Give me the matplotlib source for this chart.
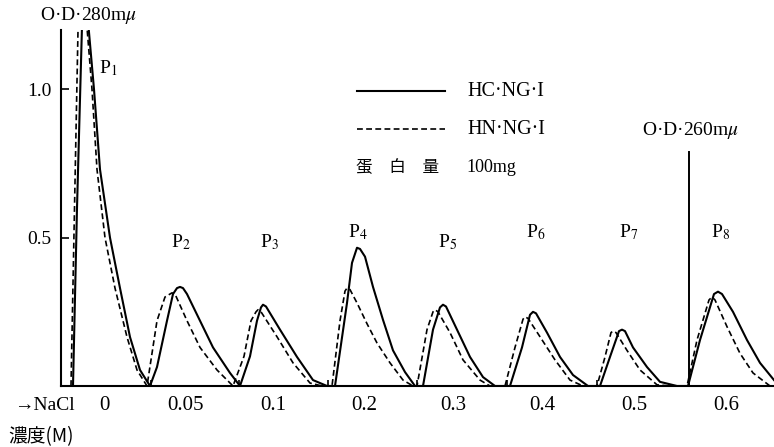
import matplotlib
matplotlib.use('Agg')
import matplotlib.pyplot as plt

plt.rcParams['font.family'] = ['Liberation Serif', 'Noto Sans CJK JP']
plt.rcParams['mathtext.fontset'] = 'stix'

# x = fraction position (elution order), y = optical density
hc_x = [73, 77, 82.3,
        87.5, 94, 100, 110, 120, 130, 140, 150,
        157, 167, 173, 177, 180, 183, 187, 200, 213, 230, 240,
        250, 257, 261, 263, 266, 280, 297, 313, 327,
        335, 347, 352, 357, 360, 365, 373, 383, 393, 405, 415,
        423, 433, 440, 443, 446, 457, 470, 483, 495,
        510, 522, 530, 533, 536, 547, 560, 573, 588,
        600, 610, 619, 622, 625, 633, 647, 660, 677,
        688, 700, 714, 718, 722, 733, 747, 760, 774]
hc_y = [0.0, 0.6, 1.25,
        1.25, 1.0, 0.73, 0.5, 0.33, 0.165, 0.054, 0.0,
        0.064, 0.22, 0.31, 0.33, 0.334, 0.33, 0.31, 0.22, 0.13, 0.044, 0.0,
        0.1, 0.22, 0.265, 0.274, 0.268, 0.19, 0.098, 0.02, 0.0,
        0.0, 0.28, 0.415, 0.466, 0.462, 0.436, 0.334, 0.223, 0.12, 0.047, 0.0,
        0.0, 0.19, 0.265, 0.274, 0.268, 0.19, 0.098, 0.03, 0.0,
        0.0, 0.13, 0.24, 0.25, 0.245, 0.18, 0.098, 0.037, 0.0,
        0.0, 0.098, 0.185, 0.19, 0.185, 0.13, 0.064, 0.014, 0.0,
        0.0, 0.155, 0.31, 0.318, 0.31, 0.25, 0.155, 0.078, 0.02]

hn_x = [71, 74.5, 78.3,
        86, 92, 97, 105, 115, 127, 137, 147,
        157, 165, 170, 172, 175, 187, 200, 217, 233,
        244, 251, 256, 258, 261, 277, 293, 310, 322,
        332, 340, 345, 347, 350, 357, 367, 377, 390, 403, 413,
        417, 427, 433, 435, 438, 450, 463, 480, 490,
        505, 515, 523, 525, 528, 540, 555, 570, 583,
        597, 605, 611, 613, 616, 627, 640, 657, 670,
        687, 697, 709, 712, 715, 727, 740, 753, 770]
hn_y = [0.0, 0.6, 1.25,
        1.25, 1.0, 0.73, 0.5, 0.33, 0.165, 0.054, 0.0,
        0.22, 0.30, 0.31, 0.314, 0.31, 0.22, 0.13, 0.054, 0.0,
        0.1, 0.22, 0.25, 0.257, 0.25, 0.166, 0.078, 0.01, 0.0,
        0.0, 0.22, 0.32, 0.33, 0.325, 0.28, 0.21, 0.145, 0.078, 0.02, 0.0,
        0.0, 0.19, 0.25, 0.257, 0.25, 0.18, 0.088, 0.02, 0.0,
        0.0, 0.13, 0.225, 0.233, 0.228, 0.166, 0.088, 0.02, 0.0,
        0.0, 0.098, 0.18, 0.185, 0.18, 0.12, 0.054, 0.004, 0.0,
        0.0, 0.155, 0.29, 0.30, 0.29, 0.2, 0.11, 0.044, 0.0]

peak_names = ['P$_1$', 'P$_2$', 'P$_3$', 'P$_4$', 'P$_5$', 'P$_6$', 'P$_7$', 'P$_8$']
peak_label_x = [108, 181, 269, 358, 448, 536, 629, 721]
peak_label_y = [1.07, 0.486, 0.486, 0.52, 0.486, 0.517, 0.517, 0.517]

nacl_labels = ['0', '0.05', '0.1', '0.2', '0.3', '0.4', '0.5', '0.6']
nacl_label_x = [104, 185, 273, 364, 453, 542, 634, 726]
boundaries = [151, 239, 328, 417, 507, 597, 689]

fig = plt.figure(figsize=(7.74, 4.47), dpi=100)
ax = fig.add_axes([61 / 774, 61 / 447, 713 / 774, 356 / 447])
ax.set_xlim(61, 774)
ax.set_ylim(0, 1.2)

ax.plot(hc_x, hc_y, color='black', lw=1.5)
ax.plot(hn_x, hn_y, color='black', lw=1.2, dashes=(3.5, 2))

# second optical density axis (260 mu) for P8
ax.plot([boundaries[-1], boundaries[-1]], [0, 0.79], color='black', lw=1.4)
ax.text(690, 0.86, 'O·D·260m$\\mu$', fontsize=14, ha='center', va='center')

for name, x, y in zip(peak_names, peak_label_x, peak_label_y):
    ax.text(x, y, name, fontsize=14, ha='center', va='center')

# legend drawn by hand like the original
ax.plot([357, 445], [0.993, 0.993], color='black', lw=1.5)
ax.plot([357, 445], [0.865, 0.865], color='black', lw=1.2, dashes=(3.5, 2))
ax.text(467, 0.993, 'HC·NG·I', fontsize=14.5, va='center')
ax.text(467, 0.865, 'HN·NG·I', fontsize=14.5, va='center')
ax.text(356, 0.736, '蛋\u2003白\u2003量', fontsize=12, va='center',
        family=['Noto Sans CJK JP'])
ax.text(466, 0.736, '100mg', fontsize=13, va='center')

for s in ['top', 'right']:
    ax.spines[s].set_visible(False)
ax.spines['left'].set_linewidth(1.5)
ax.spines['bottom'].set_linewidth(1.5)

ax.set_yticks([0.5, 1.0])
ax.set_yticklabels(['0.5', '1.0'], fontsize=14)
ax.tick_params(axis='y', direction='in', length=6, width=1.2, pad=7)

ax.set_xticks(nacl_label_x)
ax.set_xticklabels(nacl_labels, fontsize=15)
ax.set_xticks(boundaries, minor=True)
ax.tick_params(axis='x', which='major', length=0, pad=7)
ax.tick_params(axis='x', which='minor', direction='in', length=4, width=1.2)

fig.text(40 / 774, 1 - 15 / 447, 'O·D·280m$\\mu$', fontsize=14, va='center')
fig.text(14 / 774, 1 - 405 / 447, '→NaCl', fontsize=14, va='center')
fig.text(8 / 774, 1 - 437 / 447, '濃度(M)', fontsize=13.5, va='center',
         family=['Noto Sans CJK JP'])

fig.savefig('out.png', dpi=100)
